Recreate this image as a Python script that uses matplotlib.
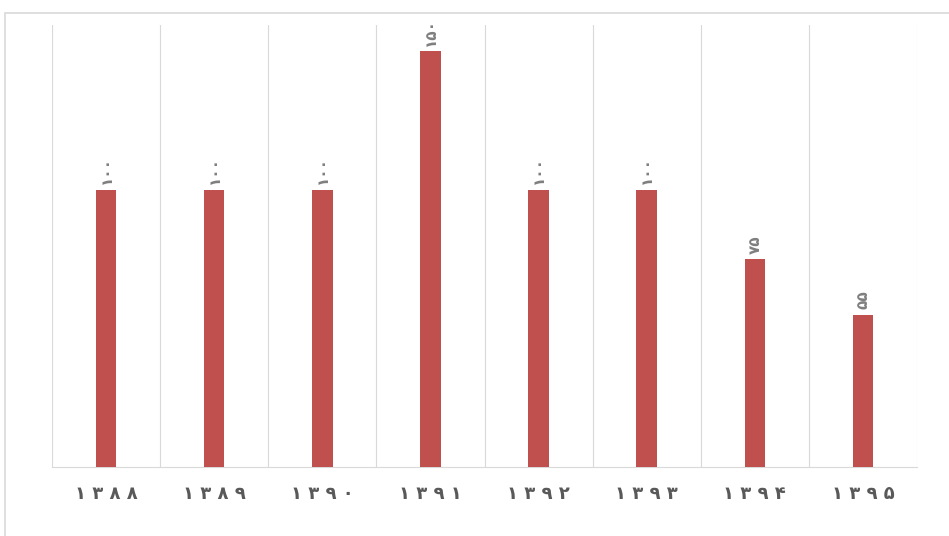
import matplotlib
matplotlib.use('Agg')
import matplotlib.pyplot as plt
from matplotlib.patches import Rectangle

years = ['۱۳۸۸', '۱۳۸۹', '۱۳۹۰', '۱۳۹۱', '۱۳۹۲', '۱۳۹۳', '۱۳۹۴', '۱۳۹۵']
values = [100, 100, 100, 150, 100, 100, 75, 55]
value_labels = ['۱۰۰', '۱۰۰', '۱۰۰', '۱۵۰', '۱۰۰', '۱۰۰', '۷۵', '۵۵']

plt.rcParams['font.family'] = ['DejaVu Sans']

fig = plt.figure(figsize=(9.49, 5.36), dpi=100)
ax = fig.add_axes([52 / 949, 69 / 536, 865 / 949, 442 / 536])

x = range(len(years))
ax.bar(x, values, width=0.19, color='#C0504D', zorder=3)

for i, (v, lab) in enumerate(zip(values, value_labels)):
    ax.annotate(lab, (i, v), xytext=(0, 4), textcoords='offset points',
                ha='center', va='bottom', rotation=90, fontsize=11,
                fontweight='bold', color='#7F7F7F')

ax.set_xlim(-0.5, len(years) - 0.5)
ax.set_ylim(0, 159.5)
ax.set_yticks([])
ax.set_xticks(list(x))
ax.set_xticklabels([' '.join(y) for y in years], fontsize=13,
                   fontweight='bold', color='#595959')
ax.tick_params(axis='x', length=0, pad=13)

# vertical separators between categories
for b in [i - 0.5 for i in range(len(years) + 1)]:
    ax.axvline(b, color='#D9D9D9', lw=0.8, zorder=1)

for s in ['top', 'left', 'right']:
    ax.spines[s].set_visible(False)
ax.spines['bottom'].set_color('#D9D9D9')

# chart area border
fig.patches.append(Rectangle((5 / 949, -0.01), 1.0, 528 / 536,
                             transform=fig.transFigure, fill=False,
                             edgecolor='#D9D9D9', lw=1.2))

fig.savefig('out.png', dpi=100)
